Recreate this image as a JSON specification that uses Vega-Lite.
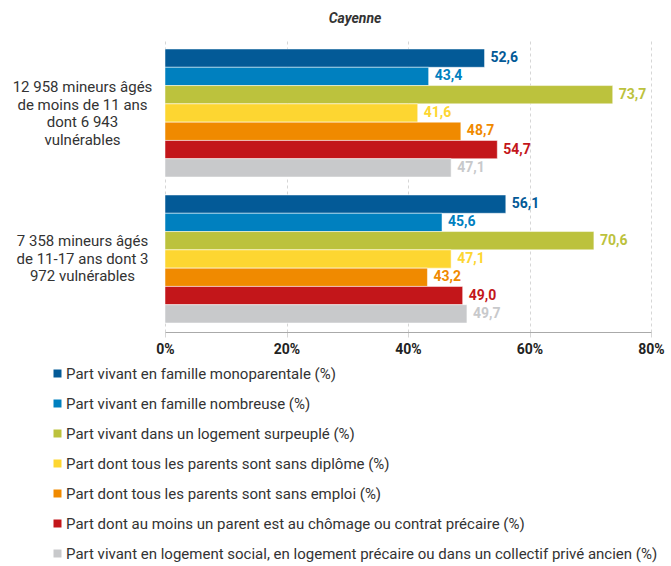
{
  "$schema": "https://vega.github.io/schema/vega-lite/v6.json",
  "width": 486,
  "height": 292,
  "autosize": {"type": "none"},
  "padding": {"left": 165, "top": 40, "right": 20, "bottom": 234},
  "title": {"text": "Cayenne", "fontStyle": "italic", "fontWeight": "bold", "fontSize": 14, "font": "Roboto", "color": "#333333", "anchor": "middle", "frame": "group", "dx": -53, "offset": 14},
  "config": {
    "locale": {"number": {"decimal": ",", "thousands": " ", "grouping": [3], "currency": ["", " €"]}},
    "view": {"stroke": null},
    "font": "Roboto"
  },
  "data": {
    "values": [
      {"groupe": "12 958 mineurs âgés|de moins de 11 ans|dont 6 943|vulnérables", "serie": "Part vivant en famille monoparentale (%)", "valeur": 52.6},
      {"groupe": "12 958 mineurs âgés|de moins de 11 ans|dont 6 943|vulnérables", "serie": "Part vivant en famille nombreuse (%)", "valeur": 43.4},
      {"groupe": "12 958 mineurs âgés|de moins de 11 ans|dont 6 943|vulnérables", "serie": "Part vivant dans un logement surpeuplé (%)", "valeur": 73.7},
      {"groupe": "12 958 mineurs âgés|de moins de 11 ans|dont 6 943|vulnérables", "serie": "Part dont tous les parents sont sans diplôme (%)", "valeur": 41.6},
      {"groupe": "12 958 mineurs âgés|de moins de 11 ans|dont 6 943|vulnérables", "serie": "Part dont tous les parents sont sans emploi (%)", "valeur": 48.7},
      {"groupe": "12 958 mineurs âgés|de moins de 11 ans|dont 6 943|vulnérables", "serie": "Part dont au moins un parent est au chômage ou contrat précaire (%)", "valeur": 54.7},
      {"groupe": "12 958 mineurs âgés|de moins de 11 ans|dont 6 943|vulnérables", "serie": "Part vivant en logement social, en logement précaire ou dans un collectif privé ancien (%)", "valeur": 47.1},
      {"groupe": "7 358 mineurs âgés|de 11-17 ans dont 3|972 vulnérables", "serie": "Part vivant en famille monoparentale (%)", "valeur": 56.1},
      {"groupe": "7 358 mineurs âgés|de 11-17 ans dont 3|972 vulnérables", "serie": "Part vivant en famille nombreuse (%)", "valeur": 45.6},
      {"groupe": "7 358 mineurs âgés|de 11-17 ans dont 3|972 vulnérables", "serie": "Part vivant dans un logement surpeuplé (%)", "valeur": 70.6},
      {"groupe": "7 358 mineurs âgés|de 11-17 ans dont 3|972 vulnérables", "serie": "Part dont tous les parents sont sans diplôme (%)", "valeur": 47.1},
      {"groupe": "7 358 mineurs âgés|de 11-17 ans dont 3|972 vulnérables", "serie": "Part dont tous les parents sont sans emploi (%)", "valeur": 43.2},
      {"groupe": "7 358 mineurs âgés|de 11-17 ans dont 3|972 vulnérables", "serie": "Part dont au moins un parent est au chômage ou contrat précaire (%)", "valeur": 49.0},
      {"groupe": "7 358 mineurs âgés|de 11-17 ans dont 3|972 vulnérables", "serie": "Part vivant en logement social, en logement précaire ou dans un collectif privé ancien (%)", "valeur": 49.7}
    ]
  },
  "encoding": {
    "y": {
      "field": "groupe", "type": "nominal", "sort": null,
      "scale": {"paddingInner": 0.123, "paddingOuter": 0.0616},
      "axis": {"title": null, "domain": false, "ticks": false, "grid": false, "labelAlign": "center", "labelPadding": 83, "labelExpr": "split(datum.value, '|')", "labelFontSize": 15, "labelColor": "#333333", "labelLineHeight": 17.5, "labelBaseline": "middle", "labelLimit": 300,
        "labelOffset": {"condition": {"test": "indexof(datum.value, '12 958') >= 0", "value": -26}, "value": -17.5}}
    },
    "yOffset": {
      "field": "serie", "type": "nominal",
      "sort": ["Part vivant en famille monoparentale (%)", "Part vivant en famille nombreuse (%)", "Part vivant dans un logement surpeuplé (%)", "Part dont tous les parents sont sans diplôme (%)", "Part dont tous les parents sont sans emploi (%)", "Part dont au moins un parent est au chômage ou contrat précaire (%)", "Part vivant en logement social, en logement précaire ou dans un collectif privé ancien (%)"],
      "scale": {"paddingInner": 0, "paddingOuter": 0}
    },
    "x": {
      "field": "valeur", "type": "quantitative",
      "scale": {"domain": [0, 80], "nice": false},
      "axis": {"title": null, "values": [0, 20, 40, 60, 80], "labelExpr": "datum.value + '%'", "labelFlush": false, "labelFontWeight": "bold", "labelFontSize": 14, "labelColor": "#222222", "grid": true, "gridDash": [3, 3], "gridColor": "#d6d6d6", "domainColor": "#aaaaaa", "tickColor": "#d6d6d6", "tickSize": 5, "labelPadding": 5}
    }
  },
  "layer": [
    {
      "mark": {"type": "bar", "stroke": "white", "strokeWidth": 0.5},
      "encoding": {
        "color": {
          "field": "serie", "type": "nominal",
          "scale": {
            "domain": ["Part vivant en famille monoparentale (%)", "Part vivant en famille nombreuse (%)", "Part vivant dans un logement surpeuplé (%)", "Part dont tous les parents sont sans diplôme (%)", "Part dont tous les parents sont sans emploi (%)", "Part dont au moins un parent est au chômage ou contrat précaire (%)", "Part vivant en logement social, en logement précaire ou dans un collectif privé ancien (%)"],
            "range": ["#035a97", "#0080bf", "#bcc23d", "#fdd631", "#f08a00", "#c3161a", "#c8c9cb"]
          },
          "legend": {"orient": "none", "legendX": -115, "legendY": 326, "direction": "vertical", "title": null, "symbolType": "square", "symbolSize": 64, "symbolStrokeWidth": 0, "labelFontSize": 15, "labelColor": "#333333", "rowPadding": 14, "labelLimit": 700, "labelOffset": 1}
        }
      }
    },
    {
      "mark": {"type": "text", "align": "left", "baseline": "middle", "dx": 6, "fontWeight": "bold", "fontSize": 14},
      "encoding": {
        "text": {"field": "valeur", "type": "quantitative", "format": ".1f"},
        "color": {"field": "serie", "type": "nominal", "legend": null}
      }
    }
  ]
}
